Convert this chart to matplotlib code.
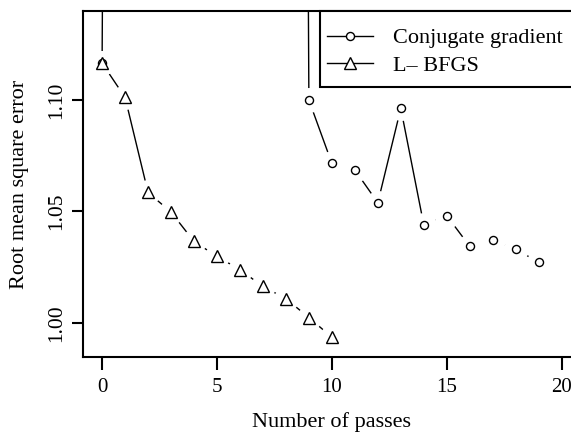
import numpy as np
import matplotlib
matplotlib.use('Agg')
import matplotlib.pyplot as plt
from matplotlib.patches import Rectangle

plt.rcParams['font.family'] = ['Liberation Serif', 'DejaVu Serif']

# passes
passes = list(range(20))
lbfgs_passes = list(range(11))

# conjugate gradient: passes 1-8 blow up far above the plotted range
cg_rmse = [1.1166, 3.0, 3.0, 3.0, 3.0, 3.0, 3.0, 3.0, 3.0,
           1.1000, 1.0716, 1.0686, 1.0539, 1.0963, 1.0440,
           1.0481, 1.0343, 1.0370, 1.0331, 1.0271]
lbfgs_rmse = [1.1166, 1.1012, 1.0585, 1.0497, 1.0365, 1.0298,
              1.0238, 1.0163, 1.0108, 1.0023, 0.9935]

x_label = 'Number of passes'
y_label = 'Root mean square error'
xticks = [0, 5, 10, 15, 20]
yticks = [1.00, 1.05, 1.10]

fig = plt.figure(figsize=(5.71, 4.32), dpi=100)
# right edge of the plot region falls past the picture (cropped like the original)
ax = fig.add_axes([0.1454, 0.1736, 0.8704, 0.7998])

# lines first, then white halos so the lines stop short of each point (R type="b")
ax.plot(passes, cg_rmse, color='black', lw=1.0, zorder=2.0)
ax.plot(lbfgs_passes, lbfgs_rmse, color='black', lw=1.0, zorder=2.0)
ax.plot(passes, cg_rmse, ls='none', marker='o', ms=18, mfc='white', mec='none', zorder=2.1)
ax.plot(lbfgs_passes, lbfgs_rmse, ls='none', marker='o', ms=18, mfc='white', mec='none', zorder=2.1)

ax.plot(passes, cg_rmse, ls='none', marker='o', ms=5.8, mfc='white', mec='black', mew=1.0, zorder=2.2)
ax.plot(lbfgs_passes, lbfgs_rmse, ls='none', marker='^', ms=9, mfc='white', mec='black', mew=1.0, zorder=2.2)

# legend: box drawn separately so it can hug the top right corner like R's
box = Rectangle((0.4769, 0.7815), 0.6, 0.2185, transform=ax.transAxes,
                facecolor='white', edgecolor='black', lw=1.5, clip_on=False, zorder=4)
ax.add_patch(box)
h_cg, = ax.plot([], [], color='black', lw=1.0, marker='o', ms=5.8, mfc='white', mec='black')
h_lb, = ax.plot([], [], color='black', lw=1.0, marker='^', ms=9, mfc='white', mec='black')
leg = ax.legend([h_cg, h_lb], ['Conjugate gradient', 'L\u2013 BFGS'],
                loc='upper left', bbox_to_anchor=(0.491, 0.953), borderaxespad=0,
                frameon=False, fontsize=16, handlelength=2.07, handletextpad=0.9,
                labelspacing=0.3, borderpad=0)
leg.set_zorder(5)

ax.set_xlim(-0.83, 20.8)
ax.set_ylim(0.9846, 1.1398)
ax.set_xticks(xticks)
ax.set_yticks(yticks)
ax.set_xticklabels([str(t) for t in xticks], fontsize=15)
ax.set_yticklabels(['%.2f' % t for t in yticks], fontsize=15.5, rotation=90, va='center')
ax.tick_params(axis='x', length=9, width=1.5, pad=6)
ax.tick_params(axis='y', length=8, width=1.5, pad=4)
for s in ax.spines.values():
    s.set_linewidth(1.5)

fig.text(0.5806, 1 - 422 / 432, x_label, ha='center', va='center', fontsize=16)
fig.text(20 / 571, 1 - 184 / 432, y_label, ha='center', va='center', rotation='vertical', fontsize=16)

fig.savefig('out.png', dpi=100)
